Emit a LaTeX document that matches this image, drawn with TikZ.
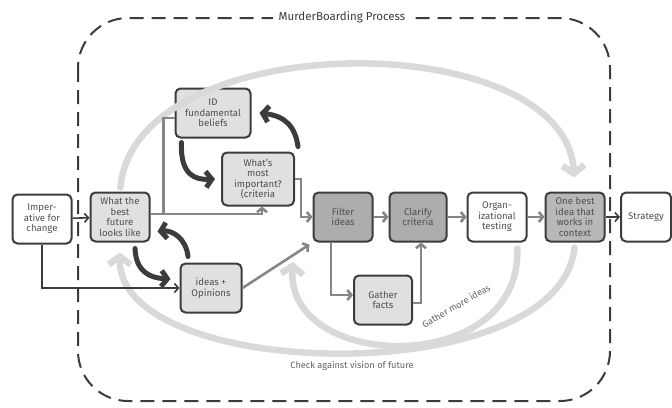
\documentclass[tikz,border=0pt]{standalone}
\usepackage{fontspec}
\setmainfont{Fira Sans}
\usetikzlibrary{arrows.meta}

\definecolor{ink}{HTML}{3C3C3C}
\definecolor{paleboxfill}{HTML}{E0E0E0}
\definecolor{darkboxfill}{HTML}{ADADAD}
\definecolor{bestboxfill}{HTML}{B8B8B8}
\definecolor{linkgray}{HTML}{868686}
\definecolor{loopgray}{HTML}{D9D9D9}

\begin{document}
\begin{tikzpicture}[x=1pt, y=-1pt,
    stepbox/.style={draw=ink, line width=2pt, rounded corners=5pt, fill=white,
      minimum width=59pt, minimum height=49pt, align=center, inner sep=1pt,
      text=ink!90, font=\fontsize{9.6}{10.6}\selectfont},
    palebox/.style={stepbox, fill=paleboxfill},
    darkbox/.style={stepbox, fill=darkboxfill},
    link/.style={draw=linkgray, line width=2.6pt,
      -{Straight Barb[length=4pt, width=10pt]}},
    inklink/.style={draw=ink, line width=1.6pt,
      -{Straight Barb[length=4pt, width=9pt]}},
    cycle/.style={draw=ink, line width=5pt, line cap=round,
      -{Straight Barb[length=6pt, width=16pt]}},
    loop/.style={draw=loopgray, line width=6.5pt, line cap=round,
      -{Straight Barb[length=8pt, width=22pt]}},
    note/.style={text=ink!80, font=\fontsize{9.2}{10}\selectfont}]
  \useasboundingbox (0,0) rectangle (672,407);

  % process frame
  \draw[ink, line width=2pt, dash pattern=on 14pt off 8pt, rounded corners=50pt]
    (78,18) rectangle (610,401);
  \node[fill=white, inner xsep=6pt, text=ink, font=\fontsize{11.5}{12}\selectfont]
    (title) at (342,17) {MurderBoarding Process};

  % boxes
  \node[stepbox] (change) at (42,219) {Imper-\\ative for\\change};
  \node[palebox] (future) at (120,217) {What the\\best\\future\\looks like};
  \node[palebox, minimum width=75pt] (beliefs) at (213,113) {ID\\fundamental\\beliefs};
  \node[palebox, minimum width=72pt, minimum height=53pt] (criteria) at (258,179)
    {What's\\most\\important?\\(criteria};
  \node[palebox, minimum width=61pt] (opinions) at (211,288) {ideas +\\Opinions};
  \node[darkbox] (filter) at (343,217) {Filter\\ideas};
  \node[darkbox, minimum width=57pt] (clarify) at (418,217) {Clarify\\criteria};
  \node[stepbox] (testing) at (497,217) {Organ-\\izational\\testing};
  \node[stepbox, fill=bestboxfill] (best) at (575,217) {One best\\idea that\\works in\\context};
  \node[stepbox, minimum width=50pt] (strategy) at (646,217) {Strategy};
  \node[palebox, minimum width=58pt] (facts) at (383,300) {Gather\\facts};

  % feedback loops
  \draw[loop, shorten <=4pt, shorten >=14pt] (future.north)
    .. controls (135,25) and (565,25) .. (best.north);
  \draw[loop, shorten <=5pt, shorten >=10pt] (best.south)
    .. controls (560,392) and (118,382) .. (future.south);
  \coordinate (moreideas) at (293,262);
  \draw[loop, shorten <=6pt] ([xshift=20pt]testing.south)
    .. controls (522,378) and (285,372) .. (moreideas);
  \node[note, rotate=30] (morelabel) at (456,306) {Gather more ideas};
  \node[note] (visionlabel) at (352,366) {Check against vision of future};

  % thinking cycles
  \draw[cycle] ([xshift=7pt, yshift=-4pt]beliefs.south west)
    .. controls (180,176) and (196,180) .. ([xshift=-6pt]criteria.west);
  \draw[cycle] ([xshift=3pt, yshift=5pt]criteria.north east)
    .. controls (295,126) and (285,116) .. ([xshift=8pt]beliefs.east);
  \draw[cycle] ([xshift=15pt, yshift=-6pt]future.south)
    .. controls (136,272) and (150,278) .. ([xshift=-9pt, yshift=9pt]opinions.west);
  \draw[cycle] ([xshift=-23pt, yshift=6pt]opinions.north)
    .. controls (186,238) and (172,230) .. ([xshift=7pt, yshift=11pt]future.south east);

  % connectors
  \draw[inklink] (change) -- (future);
  \draw[inklink] (change.south) |- (opinions.west);
  \draw[link, -] ([yshift=3pt]future.east) -- ++(13,0) coordinate (split)
    |- ([yshift=-5pt]beliefs.west);
  \draw[link] (split) -| ([xshift=4pt]criteria.south);
  \draw[link] (criteria.east) -- ++(6,0) |- (filter.west);
  \draw[link] (opinions.east) -- ([xshift=-3pt, yshift=-2pt]filter.south west);
  \draw[link] (filter) -- (clarify);
  \draw[link] (clarify) -- (testing);
  \draw[link] (testing) -- (best);
  \draw[inklink] (best) -- (strategy);
  \draw[link] ([xshift=-12pt]filter.south) |- ([yshift=5pt]facts.west);
  \draw[link] ([yshift=-3pt]facts.east) -| ([xshift=3pt]clarify.south);
\end{tikzpicture}
\end{document}
